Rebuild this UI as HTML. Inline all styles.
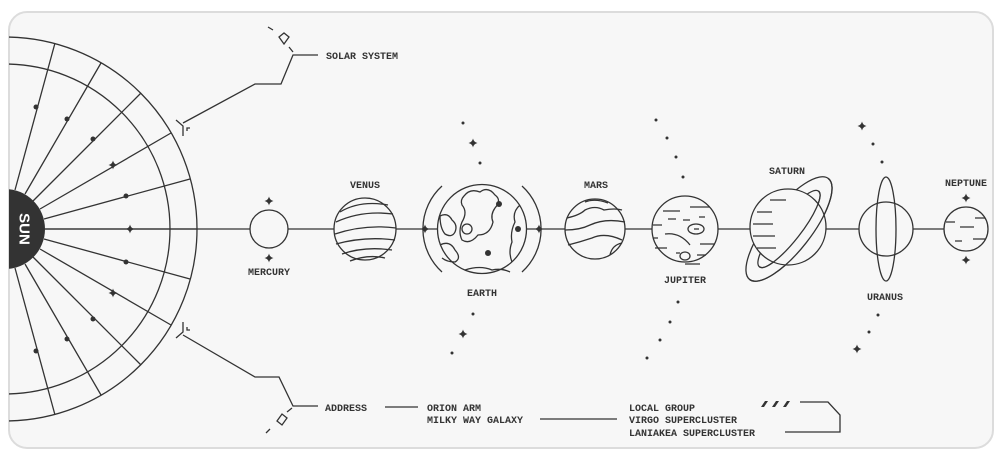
<!DOCTYPE html>
<html><head><meta charset="utf-8"><style>
html,body{margin:0;padding:0;background:#fff;}
svg{display:block}
text{font-family:"Liberation Mono","DejaVu Sans Mono",monospace;font-weight:bold;fill:#333;font-size:10px}
</style></head><body>
<svg width="1000" height="459" viewBox="0 0 1000 459" xmlns="http://www.w3.org/2000/svg">
<defs>
<clipPath id="c"><rect x="9" y="12" width="984" height="436" rx="18"/></clipPath>
<clipPath id="front"><rect x="-80" y="0" width="160" height="40"/></clipPath>
<symbol id="st" viewBox="-5 -5 10 10" overflow="visible"><path d="M0,-4.5 Q0.8,-0.8 4.5,0 Q0.8,0.8 0,4.5 Q-0.8,0.8 -4.5,0 Q-0.8,-0.8 0,-4.5Z" fill="#333"/></symbol>
</defs>
<rect x="0" y="0" width="1000" height="459" fill="#fff"/>
<rect x="9" y="12" width="984" height="436" rx="18" fill="#f7f7f7" stroke="#dcdcdc" stroke-width="2"/>
<g clip-path="url(#c)" fill="none" stroke="#333" stroke-width="1.3">
<circle cx="5" cy="229" r="192"/>
<circle cx="5" cy="229" r="165"/>
<line x1="45" y1="229" x2="197" y2="229"/>
<line x1="44" y1="219" x2="190" y2="179"/>
<line x1="40" y1="209" x2="171" y2="133"/>
<line x1="33" y1="201" x2="141" y2="93"/>
<line x1="25" y1="194" x2="101" y2="63"/>
<line x1="15" y1="190" x2="55" y2="43"/>
<line x1="44" y1="239" x2="190" y2="279"/>
<line x1="40" y1="249" x2="171" y2="325"/>
<line x1="33" y1="257" x2="141" y2="365"/>
<line x1="25" y1="264" x2="101" y2="395"/>
<line x1="15" y1="268" x2="55" y2="415"/>
<path d="M5,189 A40,40 0 0 1 5,269 Z" fill="#333" stroke="none"/>
<rect x="0" y="189" width="6" height="80" fill="#333" stroke="none"/>
<polyline points="183,123 255,84 281,84 293,55 318,55"/>
<polyline points="183,335 255,377 279,377 293,406 318,406"/>
<path d="M176,120 L183,126 L183,136 M187,131 L187,128 L190,128"/>
<path d="M176,338 L183,332 L183,322 M187,327 L187,330 L190,330"/>
<path d="M279,37 L284,33 L289,37 L284,44 Z M268,27 L273,30 M289,47 L293,52"/>
<path d="M277,421 L282,414 L287,418 L282,425 Z M266,433 L270,429 M287,412 L292,408"/>
<line x1="40" y1="229" x2="945" y2="229"/>
<circle cx="269" cy="229" r="19" fill="#f7f7f7"/>
<circle cx="365" cy="229" r="31" fill="#f7f7f7"/>
<path d="M340,212 Q360,200 388,205 M336,222 Q362,210 393,214 M335,234 Q365,224 396,228 M336,244 Q365,236 395,240 M342,254 Q365,246 392,250 M350,261 Q368,254 385,258"/>
<path d="M442,186 A58,58 0 0 0 442,272 M522,186 A58,58 0 0 1 522,272"/>
<circle cx="482" cy="229" r="44.5" fill="#f7f7f7"/>
<path d="M464,196 Q470,188 480,192 Q488,186 495,195 Q502,200 495,208 Q490,215 493,222 Q490,235 478,235 Q470,245 462,240 Q458,232 462,222 Q468,212 462,205 Q460,200 464,196Z"/>
<path d="M440,216 Q448,212 452,220 Q458,225 455,232 Q452,238 445,234 Q440,228 440,216Z"/>
<path d="M440,245 Q450,240 455,250 Q462,258 455,262 Q447,262 442,258"/>
<path d="M520,205 Q512,212 515,222 Q510,232 512,242 Q508,252 512,262"/>
<path d="M465,270 Q480,265 492,270 Q502,268 510,272"/>
<circle cx="467" cy="229" r="5"/>
<circle cx="595" cy="229" r="30" fill="#f7f7f7"/>
<path d="M567,218 Q580,215 585,210 Q595,205 604,210 Q615,208 622,210 M565,230 Q580,230 590,225 Q605,218 625,222 M568,245 Q580,242 592,238 Q605,232 622,240 M585,202 Q595,198 608,203 M610,255 Q612,245 622,243"/>
<circle cx="685" cy="229" r="33" fill="#f7f7f7"/>
<path d="M663,211 H680 M690,207 H710 M668,219 H676 M683,220 H690 M699,217 H705 M653,225 H662 M665,234 Q680,232 690,245 M653,238 H658 M700,244 H715 M655,248 H667 M697,255 H706 M676,253 H680 M685,264 H700"/>
<ellipse cx="696" cy="229" rx="8" ry="5"/><path d="M694,229 H699"/>
<ellipse cx="685" cy="256" rx="5" ry="4"/>
<!-- Saturn -->
<g transform="translate(789 229) rotate(-52)">
<ellipse cx="0" cy="0" rx="64" ry="22"/>
<ellipse cx="0" cy="0" rx="48" ry="12"/>
</g>
<circle cx="788" cy="227" r="38" fill="#f7f7f7"/>
<path d="M770,200 H786 M757,212 H772 M753,224 H773 M753,236 H775 M757,248 H776"/>
<g transform="translate(789 229) rotate(-52)" clip-path="url(#front)">
<ellipse cx="0" cy="0" rx="64" ry="22"/>
<ellipse cx="0" cy="0" rx="48" ry="12"/>
</g>
<circle cx="886" cy="229" r="27" fill="#f7f7f7"/>
<ellipse cx="886" cy="229" rx="10" ry="52"/>
<circle cx="966" cy="229" r="22" fill="#f7f7f7"/>
<path d="M975,218 H985 M946,222 H955 M960,227 H974 M973,239 H985 M955,241 H962"/>
<line x1="385" y1="407" x2="418" y2="407"/>
<line x1="540" y1="419" x2="617" y2="419"/>
<polyline points="800,402 828,402 840,415 840,432 785,432"/>
</g>
<g fill="#333">
<circle cx="36" cy="107" r="2.5"/><circle cx="67" cy="119" r="2.5"/><circle cx="93" cy="139" r="2.5"/><circle cx="126" cy="196" r="2.5"/>
<circle cx="36" cy="351" r="2.5"/><circle cx="67" cy="339" r="2.5"/><circle cx="93" cy="319" r="2.5"/><circle cx="126" cy="262" r="2.5"/>
<circle cx="463" cy="123" r="1.5"/><circle cx="480" cy="163" r="1.5"/><circle cx="473" cy="314" r="1.5"/><circle cx="452" cy="353" r="1.5"/>
<circle cx="656" cy="120" r="1.5"/><circle cx="667" cy="138" r="1.5"/><circle cx="676" cy="157" r="1.5"/><circle cx="683" cy="177" r="1.5"/>
<circle cx="678" cy="302" r="1.5"/><circle cx="670" cy="322" r="1.5"/><circle cx="660" cy="340" r="1.5"/><circle cx="647" cy="358" r="1.5"/>
<circle cx="873" cy="144" r="1.5"/><circle cx="882" cy="162" r="1.5"/><circle cx="878" cy="315" r="1.5"/><circle cx="869" cy="332" r="1.5"/>
<circle cx="499" cy="204" r="3"/><circle cx="518" cy="229" r="3"/><circle cx="488" cy="253" r="3"/>
<path d="M761,407 l4,-6 h3 l-4,6z M772,407 l4,-6 h3 l-4,6z M783,407 l4,-6 h3 l-4,6z"/>
</g>
<use href="#st" x="125" y="224" width="10" height="10"/>
<use href="#st" x="108" y="160" width="10" height="10"/>
<use href="#st" x="108" y="288" width="10" height="10"/>
<use href="#st" x="264" y="196" width="10" height="10"/>
<use href="#st" x="264" y="253" width="10" height="10"/>
<use href="#st" x="420" y="224" width="10" height="10"/>
<use href="#st" x="534" y="224" width="10" height="10"/>
<use href="#st" x="468" y="138" width="10" height="10"/>
<use href="#st" x="458" y="329" width="10" height="10"/>
<use href="#st" x="857" y="121" width="10" height="10"/>
<use href="#st" x="852" y="344" width="10" height="10"/>
<use href="#st" x="961" y="193" width="10" height="10"/>
<use href="#st" x="961" y="255" width="10" height="10"/>
<text x="24" y="229" transform="rotate(90 24 229)" text-anchor="middle" dominant-baseline="central" style="fill:#fff;font-family:'Liberation Sans',sans-serif;font-size:15px">SUN</text>
<g text-anchor="middle" style="font-size:9px">
<text x="269" y="275">MERCURY</text>
<text x="365" y="188">VENUS</text>
<text x="482" y="296">EARTH</text>
<text x="596" y="188">MARS</text>
<text x="685" y="283">JUPITER</text>
<text x="787" y="174">SATURN</text>
<text x="885" y="300">URANUS</text>
<text x="966" y="186">NEPTUNE</text>
</g>
<text x="326" y="59">SOLAR SYSTEM</text>
<text x="325" y="411">ADDRESS</text>
<text x="427" y="411">ORION ARM</text>
<text x="427" y="423">MILKY WAY GALAXY</text>
<text x="629" y="411">LOCAL GROUP</text>
<text x="629" y="423">VIRGO SUPERCLUSTER</text>
<text x="629" y="436">LANIAKEA SUPERCLUSTER</text>
</svg>
</body></html>
